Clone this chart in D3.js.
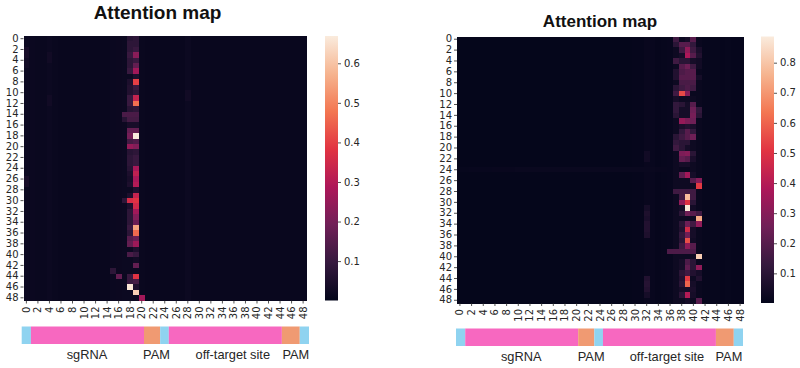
<!DOCTYPE html>
<html>
<head>
<meta charset="utf-8">
<style>
    body { margin: 0; background: #fff; }
    svg { display: block; }
    .domain { display: none; }
    .tick line { stroke: #262626; stroke-width: 0.8; }
    .tick text { font-family: "DejaVu Sans"; font-size: 10px; fill: #262626; }
    .title { font-family: "Liberation Sans"; font-weight: bold; fill: #111; text-anchor: middle; }
    .seglabel { font-family: "Liberation Sans"; font-size: 12.8px; fill: #262626; text-anchor: middle; }
</style>
<script src="https://d3js.org/d3.v7.min.js"></script>
</head>
<body>
<svg width="800" height="368"></svg>
<script>
    var positions = d3.range(49);
    var tickLabels = positions.filter(function (d) { return d % 2 === 0; });

    // seaborn "rocket" colours
    var rocket = ["#03051a", "#35193e", "#701f57", "#ad1759", "#e13342", "#f37651", "#f6b48f", "#faebdd"];

    // segments along the sequence: start and end in cell units
    var segments = [
        { name: "cap", start: 0, end: 1.6 },
        { name: "sgRNA", start: 1.6, end: 21.2 },
        { name: "PAM", start: 21.2, end: 24 },
        { name: "cap", start: 24, end: 25.5 },
        { name: "off-target site", start: 25.5, end: 45.1 },
        { name: "PAM", start: 45.1, end: 48.2 },
        { name: "cap", start: 48.2, end: 49.8 }
    ];
    var segmentColors = { cap: "#8fd3f0", sgRNA: "#f768c0", "off-target site": "#f768c0", PAM: "#f09a72" };

    // faint level of each column
    var leftBase = [.018, .016, .014, .013, .018, .013, .012, .012, .012, .012, .012, .012, .012, .012, .012, .015, .017, .018,
        .018, .018, .013, .012, .012, .012, .012, .012, .012, .012, .018, .012, .012, .012, .012, .012, .012, .012, .012, .012, .012,
        .012, .012, .012, .012, .012, .012, .012, .012, .012, .012];
    var rightBase = [.006, .006, .006, .006, .006, .006, .006, .006, .006, .006, .006, .006, .006, .006, .006, .006, .006, .006,
        .006, .006, .006, .006, .006, .006, .006, .006, .006, .006, .006, .006, .008, .01, .016, .014, .01, .012, .014, .03, .03,
        .03, .03, .02, .012, .012, .012, .01, .012, .01, .01];
    // faint band across row 24 of the right map, columns 0 to 35
    var rightRow24 = [.012, .012, .014, .014, .014, .014, .016, .016, .016, .016, .018, .018, .018, .018, .018, .018, .018, .018,
        .018, .018, .018, .018, .018, .018, .018, .018, .018, .018, .018, .018, .018, .018, .02, .018, .016, .016];

    // [row, column, value]
    var leftCells = [
        [2, 0, .04], [3, 0, .04], [4, 0, .03], [5, 0, .03], [26, 0, .04], [27, 0, .04],
        [3, 4, .03], [4, 4, .03], [11, 4, .03], [12, 4, .03], [10, 28, .03], [11, 28, .03],
        [0, 18, .07], [0, 19, .08], [1, 18, .08], [1, 19, .08], [2, 18, .08], [2, 19, .1],
        [3, 18, .1], [3, 19, .23], [4, 18, .08], [4, 19, .1], [5, 18, .08], [5, 19, .17],
        [6, 18, .1], [6, 19, .27], [7, 19, .05], [8, 18, .05], [8, 19, .4], [9, 18, .06], [9, 19, .1],
        [10, 18, .06], [10, 19, .08], [11, 18, .1], [11, 19, .33], [12, 18, .1], [12, 19, .47],
        [13, 18, .07], [13, 19, .08], [14, 17, .13], [14, 18, .13], [14, 19, .13],
        [15, 17, .07], [15, 18, .12], [15, 19, .12], [16, 18, .04], [16, 19, .04],
        [17, 18, .17], [17, 19, .17], [18, 18, .2], [18, 19, .67], [19, 18, .12], [19, 19, .14],
        [20, 18, .25], [20, 19, .22], [21, 18, .07], [21, 19, .08], [22, 18, .08], [22, 19, .1],
        [23, 18, .08], [23, 19, .1], [24, 18, .07], [24, 19, .28], [25, 18, .05], [25, 19, .32],
        [26, 18, .04], [26, 19, .28], [27, 18, .05], [27, 19, .3], [28, 19, .05],
        [29, 18, .05], [29, 19, .33], [30, 17, .08], [30, 18, .36], [30, 19, .38], [31, 18, .05], [31, 19, .35],
        [32, 18, .08], [32, 19, .27], [33, 18, .08], [33, 19, .22], [34, 18, .08], [34, 19, .18],
        [35, 18, .1], [35, 19, .55], [36, 18, .08], [36, 19, .46], [37, 18, .15], [37, 19, .18],
        [38, 18, .17], [38, 19, .26], [39, 19, .05], [40, 18, .13], [40, 19, .1], [41, 19, .03],
        [42, 19, .17], [43, 15, .08], [44, 16, .17], [44, 18, .1], [44, 19, .38], [45, 18, .1], [45, 19, .12],
        [46, 18, .66], [46, 19, .05], [47, 19, .62], [48, 20, .27]
    ];
    var rightCells = [
        [31, 32, .05], [32, 32, .07], [33, 32, .06], [34, 32, .08], [35, 32, .08], [36, 32, .07],
        [44, 32, .08], [45, 32, .09], [46, 32, .08], [47, 32, .05], [21, 32, .04], [22, 32, .04],
        [0, 37, .15], [0, 38, .03], [0, 39, .05], [0, 40, .2],
        [1, 37, .1], [1, 38, .2], [1, 39, .2], [1, 40, .12],
        [2, 38, .15], [2, 39, .32], [2, 40, .15], [2, 41, .06],
        [3, 38, .05], [3, 39, .38], [3, 40, .2], [3, 41, .08],
        [4, 37, .15], [4, 38, .1], [4, 39, .1], [4, 40, .05], [4, 41, .04],
        [5, 38, .2], [5, 39, .25], [5, 40, .15], [5, 41, .04],
        [6, 37, .08], [6, 38, .18], [6, 39, .2], [6, 40, .2],
        [7, 37, .08], [7, 38, .2], [7, 39, .2], [7, 40, .2], [7, 41, .05],
        [8, 38, .17], [8, 39, .17], [8, 40, .17],
        [9, 37, .1], [9, 38, .15], [9, 39, .18], [9, 40, .15],
        [10, 37, .15], [10, 38, .55], [10, 39, .3], [10, 40, .02],
        [11, 37, .05], [11, 38, .03], [11, 39, .03], [11, 40, .03],
        [12, 37, .12], [12, 38, .1], [12, 39, .05], [12, 40, .2],
        [13, 37, .12], [13, 38, .05], [13, 39, .05], [13, 40, .25], [13, 41, .12],
        [14, 37, .1], [14, 38, .05], [14, 39, .05], [14, 40, .27], [14, 41, .1],
        [15, 38, .33], [15, 39, .28], [15, 40, .25],
        [16, 38, .06], [16, 39, .08], [16, 40, .06],
        [17, 38, .12], [17, 39, .2], [17, 40, .12],
        [18, 37, .1], [18, 38, .15], [18, 39, .2], [18, 40, .25],
        [19, 37, .12], [19, 38, .1], [19, 39, .1],
        [20, 37, .15], [20, 38, .1], [20, 39, .05],
        [21, 38, .28], [21, 39, .3], [21, 40, .1],
        [22, 38, .23], [22, 39, .2], [22, 40, .06],
        [23, 38, .05], [23, 39, .05], [24, 38, .02], [24, 39, .02],
        [25, 38, .22], [25, 39, .36], [25, 40, .05],
        [26, 40, .2], [26, 41, .3], [27, 41, .52], [27, 40, .03],
        [28, 37, .15], [28, 38, .15], [28, 39, .15], [28, 40, .15],
        [29, 38, .15], [29, 39, .78], [29, 40, .15],
        [30, 38, .32], [30, 39, .5], [30, 40, .1],
        [31, 38, .05], [31, 39, .88], [31, 40, .04],
        [32, 38, .1], [32, 39, .25], [32, 40, .2], [32, 41, .15],
        [33, 39, .03], [33, 41, .74],
        [34, 38, .1], [34, 39, .25], [34, 40, .15], [34, 41, .32],
        [35, 38, .08], [35, 39, .47], [35, 40, .05],
        [36, 38, .12], [36, 39, .25], [36, 40, .05],
        [37, 38, .1], [37, 39, .56], [37, 40, .04],
        [38, 38, .15], [38, 39, .32], [38, 40, .2],
        [39, 36, .18], [39, 37, .18], [39, 38, .18], [39, 39, .18], [39, 40, .18],
        [40, 38, .03], [40, 39, .03], [40, 40, .03], [40, 41, .82],
        [41, 38, .05], [41, 39, .18], [41, 40, .1],
        [42, 38, .05], [42, 39, .22], [42, 40, .1], [42, 41, .32],
        [43, 38, .1], [43, 39, .15], [43, 40, .08], [43, 41, .05],
        [44, 38, .08], [44, 39, .52], [44, 41, .08],
        [45, 38, .1], [45, 39, .6], [45, 40, .05],
        [46, 38, .05], [46, 39, .05], [46, 40, .06],
        [47, 38, .1], [47, 39, .4], [47, 40, .05],
        [48, 39, .05], [48, 41, .2]
    ];

    var leftTicks = [.1, .2, .3, .4, .5, .6];
    var rightTicks = [.1, .2, .3, .4, .5, .6, .7, .8];

    var svg = d3.select("svg");

    function drawPanel(p) {
        var x = d3.scaleBand().domain(positions).range([p.left, p.right]);
        var y = d3.scaleBand().domain(positions).range([p.top, p.bottom]);
        var valueToUnit = d3.scaleLinear().domain(p.extent).range([0, 1]).clamp(true);
        var colorRamp = d3.scaleLinear().domain(d3.range(8).map(function (d) { return d / 7; })).range(rocket);
        var color = function (v) { return colorRamp(valueToUnit(v)); };

        var hot = new Map(p.cells.map(function (d) { return [d[0] + "_" + d[1], d[2]]; }));
        var grid = [];
        positions.forEach(function (r) {
            positions.forEach(function (c) {
                grid.push({ r: r, c: c, v: hot.has(r + "_" + c) ? hot.get(r + "_" + c) : p.base[c] });
            });
        });

        svg.append("g").selectAll("rect")
            .data(grid)
            .enter().append("rect")
            .attr("x", function (d) { return x(d.c); })
            .attr("y", function (d) { return y(d.r); })
            .attr("width", x.bandwidth() + 0.5)
            .attr("height", y.bandwidth() + 0.5)
            .attr("shape-rendering", "crispEdges")
            .attr("fill", function (d) { return color(d.v); });

        svg.append("g")
            .attr("transform", "translate(" + p.left + ",0)")
            .call(d3.axisLeft(y).tickValues(tickLabels).tickSize(3).tickPadding(2));

        var xAxis = svg.append("g")
            .attr("transform", "translate(0," + p.bottom + ")")
            .call(d3.axisBottom(x).tickValues(tickLabels).tickSize(3));
        xAxis.selectAll("text")
            .attr("transform", "rotate(-90)")
            .attr("x", -6)
            .attr("y", 0)
            .attr("dy", "0.35em")
            .attr("text-anchor", "end");

        // colorbar
        var cbY = d3.scaleLinear().domain(p.extent).range([p.bottom, p.top]);
        var gradId = "grad" + p.left;
        var grad = svg.append("defs").append("linearGradient")
            .attr("id", gradId)
            .attr("x1", 0).attr("x2", 0).attr("y1", 1).attr("y2", 0);
        rocket.forEach(function (c, i) {
            grad.append("stop").attr("offset", (i / 7 * 100) + "%").attr("stop-color", c);
        });
        svg.append("rect")
            .attr("x", p.cbLeft)
            .attr("y", p.top)
            .attr("width", p.cbWidth)
            .attr("height", p.bottom - p.top)
            .attr("fill", "url(#" + gradId + ")");
        svg.append("g")
            .attr("transform", "translate(" + (p.cbLeft + p.cbWidth) + ",0)")
            .call(d3.axisRight(cbY).tickValues(p.ticks).tickSize(3).tickPadding(3).tickFormat(d3.format(".1f")));

        // sequence bar under the heatmap
        var seg = d3.scaleLinear().domain([0, 49.8]).range([p.segLeft, p.segRight]);
        svg.append("g").selectAll("rect")
            .data(segments)
            .enter().append("rect")
            .attr("x", function (d) { return seg(d.start); })
            .attr("y", p.segTop)
            .attr("width", function (d) { return seg(d.end) - seg(d.start); })
            .attr("height", 17.5)
            .attr("fill", function (d) { return segmentColors[d.name]; });
        svg.append("g").selectAll("text")
            .data(segments.filter(function (d) { return d.name !== "cap"; }))
            .enter().append("text")
            .attr("class", "seglabel")
            .attr("x", function (d, i) { return seg(d.start) + p.labelOffset[i]; })
            .attr("y", p.segTop + 32)
            .text(function (d) { return d.name; });

        svg.append("text")
            .attr("class", "title")
            .attr("x", p.titleX)
            .attr("y", p.titleY)
            .attr("font-size", p.titleSize)
            .text("Attention map");
    }

    drawPanel({
        cells: leftCells, base: leftBase, extent: [0.0004, 0.669], ticks: leftTicks,
        left: 23.5, right: 306, top: 36, bottom: 300.5,
        cbLeft: 325, cbWidth: 13,
        segLeft: 21.7, segRight: 309, segTop: 326.5, labelOffset: [56, 12.5, 64, 14],
        titleX: 157.5, titleY: 19, titleSize: "19px"
    });
    drawPanel({
        cells: rightCells.concat(rightRow24.map(function (v, c) { return [24, c, v]; })),
        base: rightBase, extent: [0.0015, 0.887], ticks: rightTicks,
        left: 457, right: 743, top: 36.5, bottom: 303,
        cbLeft: 761, cbWidth: 13,
        segLeft: 456, segRight: 743, segTop: 328.5, labelOffset: [56, 13, 64, 13],
        titleX: 600, titleY: 27, titleSize: "17px"
    });
</script>
</body>
</html>
